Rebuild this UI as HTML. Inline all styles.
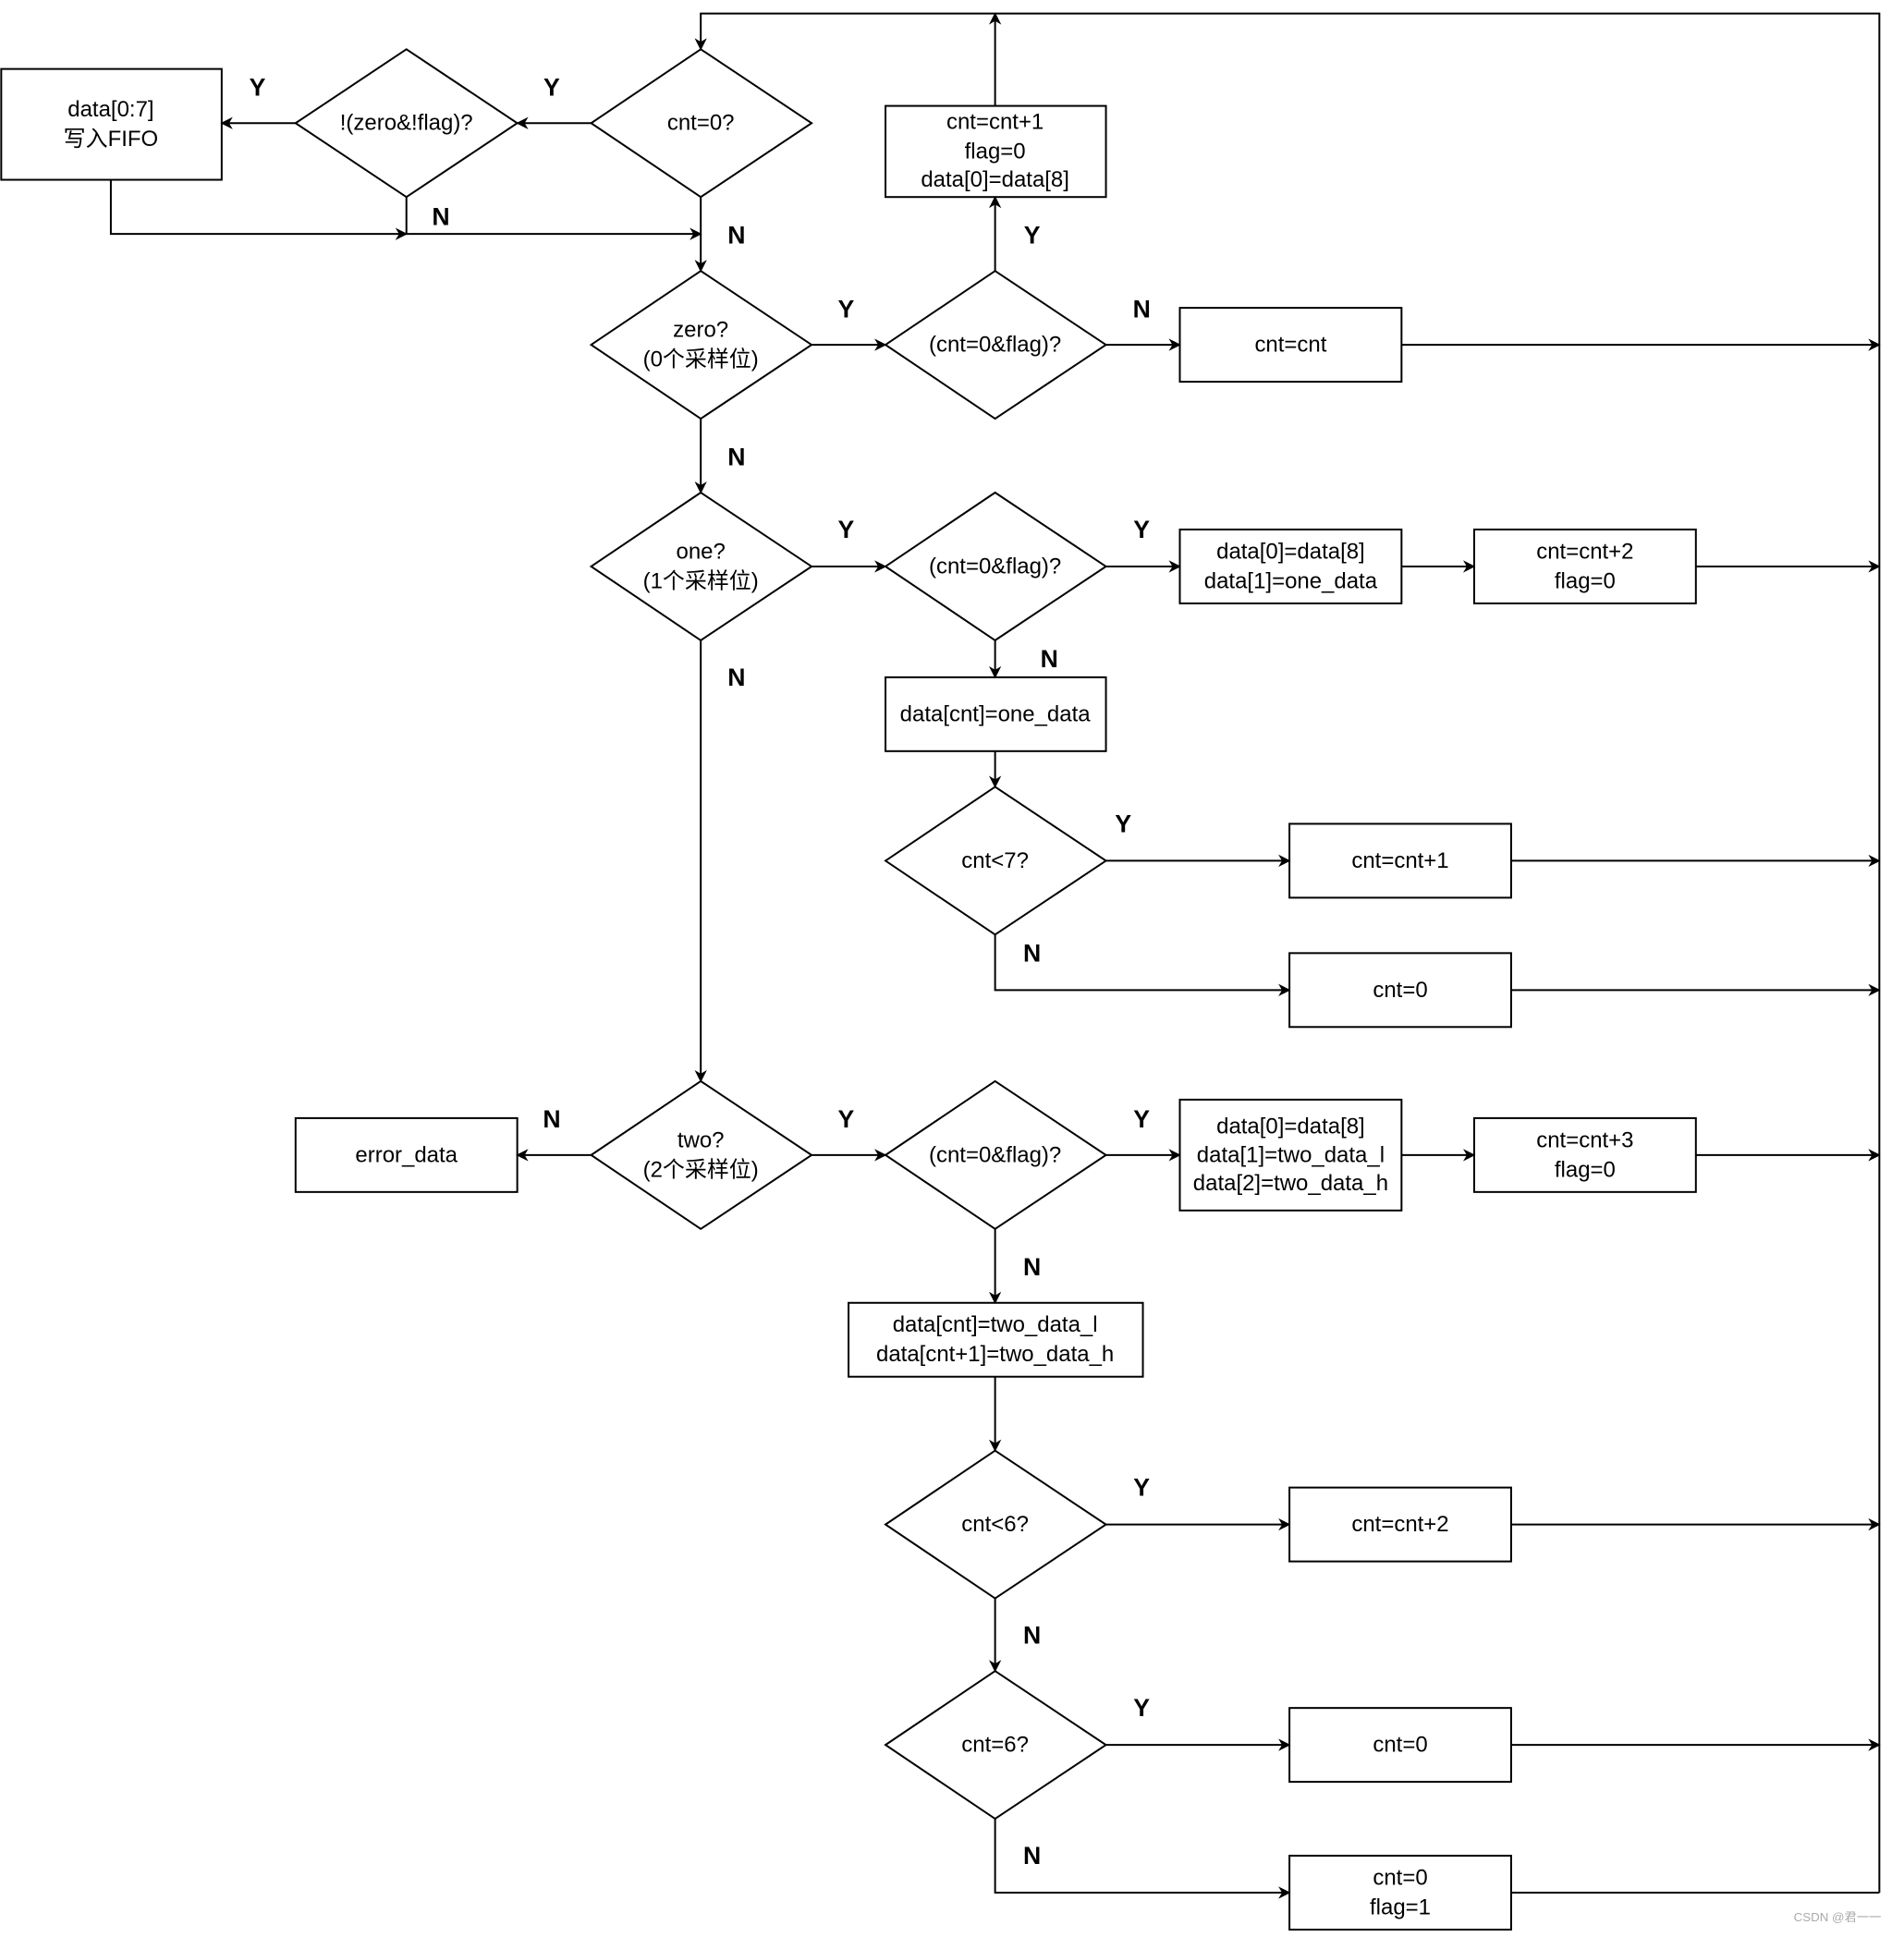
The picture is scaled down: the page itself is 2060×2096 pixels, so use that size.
<!DOCTYPE html>
<html><head><meta charset="utf-8"><style>
html,body{margin:0;padding:0;background:#fff;}
svg{display:block}
text{font-family:"Liberation Sans","Noto Sans CJK SC",sans-serif;font-size:18px;fill:#000;text-anchor:middle;dominant-baseline:central}
.b{font-weight:bold;font-size:20px}
</style></head><body>
<svg width="2060" height="2096" viewBox="0 0 1546 1573" preserveAspectRatio="none" xmlns="http://www.w3.org/2000/svg">
<defs><marker id="a" markerWidth="10" markerHeight="10" refX="9" refY="5" orient="auto" markerUnits="userSpaceOnUse"><path d="M0,0 L10,5 L0,10 L3,5 z" fill="#000"/></marker></defs>
<g fill="#fff" stroke="#000" stroke-width="1.5">
<rect x="1" y="56" width="179" height="90"/>
<polygon points="240,100 330,40 420,100 330,160"/>
<polygon points="480,100 569,40 659,100 569,160"/>
<rect x="719" y="86" width="179" height="74"/>
<polygon points="480,280 569,220 659,280 569,340"/>
<polygon points="719,280 808,220 898,280 808,340"/>
<rect x="958" y="250" width="180" height="60"/>
<polygon points="480,460 569,400 659,460 569,520"/>
<polygon points="719,460 808,400 898,460 808,520"/>
<rect x="958" y="430" width="180" height="60"/>
<rect x="1197" y="430" width="180" height="60"/>
<rect x="719" y="550" width="179" height="60"/>
<polygon points="719,699 808,639 898,699 808,759"/>
<rect x="1047" y="669" width="180" height="60"/>
<rect x="1047" y="774" width="180" height="60"/>
<polygon points="480,938 569,878 659,938 569,998"/>
<rect x="240" y="908" width="180" height="60"/>
<polygon points="719,938 808,878 898,938 808,998"/>
<rect x="958" y="893" width="180" height="90"/>
<rect x="1197" y="908" width="180" height="60"/>
<rect x="689" y="1058" width="239" height="60"/>
<polygon points="719,1238 808,1178 898,1238 808,1298"/>
<rect x="1047" y="1208" width="180" height="60"/>
<polygon points="719,1417 808,1357 898,1417 808,1477"/>
<rect x="1047" y="1387" width="180" height="60"/>
<rect x="1047" y="1507" width="180" height="60"/>
</g>
<g fill="none" stroke="#000" stroke-width="1.5">
<path d="M1526,1537 V11 H569 V40" marker-end="url(#a)"/>
<path d="M808,86 V11" marker-end="url(#a)"/>
<path d="M480,100 H420" marker-end="url(#a)"/>
<path d="M240,100 H180" marker-end="url(#a)"/>
<path d="M90,146 V190 H330" marker-end="url(#a)"/>
<path d="M330,160 V190 H569" marker-end="url(#a)"/>
<path d="M569,160 V220" marker-end="url(#a)"/>
<path d="M659,280 H719" marker-end="url(#a)"/>
<path d="M808,220 V160" marker-end="url(#a)"/>
<path d="M898,280 H958" marker-end="url(#a)"/>
<path d="M1138,280 H1526" marker-end="url(#a)"/>
<path d="M569,340 V400" marker-end="url(#a)"/>
<path d="M659,460 H719" marker-end="url(#a)"/>
<path d="M898,460 H958" marker-end="url(#a)"/>
<path d="M1138,460 H1197" marker-end="url(#a)"/>
<path d="M1377,460 H1526" marker-end="url(#a)"/>
<path d="M808,520 V550" marker-end="url(#a)"/>
<path d="M808,610 V639" marker-end="url(#a)"/>
<path d="M898,699 H1047" marker-end="url(#a)"/>
<path d="M1227,699 H1526" marker-end="url(#a)"/>
<path d="M808,759 V804 H1047" marker-end="url(#a)"/>
<path d="M1227,804 H1526" marker-end="url(#a)"/>
<path d="M569,520 V878" marker-end="url(#a)"/>
<path d="M480,938 H420" marker-end="url(#a)"/>
<path d="M659,938 H719" marker-end="url(#a)"/>
<path d="M898,938 H958" marker-end="url(#a)"/>
<path d="M1138,938 H1197" marker-end="url(#a)"/>
<path d="M1377,938 H1526" marker-end="url(#a)"/>
<path d="M808,998 V1058" marker-end="url(#a)"/>
<path d="M808,1118 V1178" marker-end="url(#a)"/>
<path d="M898,1238 H1047" marker-end="url(#a)"/>
<path d="M1227,1238 H1526" marker-end="url(#a)"/>
<path d="M808,1298 V1357" marker-end="url(#a)"/>
<path d="M898,1417 H1047" marker-end="url(#a)"/>
<path d="M1227,1417 H1526" marker-end="url(#a)"/>
<path d="M808,1477 V1537 H1047" marker-end="url(#a)"/>
<path d="M1227,1537 H1526"/>
</g>
<text x="90" y="89">data[0:7]</text><text x="90" y="113">写入FIFO</text>
<text x="330" y="100">!(zero&amp;!flag)?</text>
<text x="569" y="100">cnt=0?</text>
<text x="808" y="99">cnt=cnt+1</text><text x="808" y="123">flag=0</text><text x="808" y="146">data[0]=data[8]</text>
<text x="569" y="268">zero?</text><text x="569" y="292">(0个采样位)</text>
<text x="808" y="280">(cnt=0&amp;flag)?</text>
<text x="1048" y="280">cnt=cnt</text>
<text x="569" y="448">one?</text><text x="569" y="472">(1个采样位)</text>
<text x="808" y="460">(cnt=0&amp;flag)?</text>
<text x="1048" y="448">data[0]=data[8]</text><text x="1048" y="472">data[1]=one_data</text>
<text x="1287" y="448">cnt=cnt+2</text><text x="1287" y="472">flag=0</text>
<text x="808" y="580">data[cnt]=one_data</text>
<text x="808" y="699">cnt&lt;7?</text>
<text x="1137" y="699">cnt=cnt+1</text>
<text x="1137" y="804">cnt=0</text>
<text x="569" y="926">two?</text><text x="569" y="950">(2个采样位)</text>
<text x="330" y="938">error_data</text>
<text x="808" y="938">(cnt=0&amp;flag)?</text>
<text x="1048" y="915">data[0]=data[8]</text><text x="1048" y="938">data[1]=two_data_l</text><text x="1048" y="961">data[2]=two_data_h</text>
<text x="1287" y="926">cnt=cnt+3</text><text x="1287" y="950">flag=0</text>
<text x="808" y="1076">data[cnt]=two_data_l</text><text x="808" y="1100">data[cnt+1]=two_data_h</text>
<text x="808" y="1238">cnt&lt;6?</text>
<text x="1137" y="1238">cnt=cnt+2</text>
<text x="808" y="1417">cnt=6?</text>
<text x="1137" y="1417">cnt=0</text>
<text x="1137" y="1525">cnt=0</text><text x="1137" y="1549">flag=1</text>
<g class="b">
<text class="b" x="209" y="71">Y</text><text class="b" x="448" y="71">Y</text><text class="b" x="358" y="176">N</text>
<text class="b" x="598" y="191">N</text><text class="b" x="687" y="251">Y</text><text class="b" x="927" y="251">N</text>
<text class="b" x="838" y="191">Y</text><text class="b" x="598" y="371">N</text><text class="b" x="687" y="430">Y</text>
<text class="b" x="927" y="430">Y</text><text class="b" x="852" y="535">N</text><text class="b" x="598" y="550">N</text>
<text class="b" x="912" y="669">Y</text><text class="b" x="838" y="774">N</text><text class="b" x="448" y="909">N</text>
<text class="b" x="687" y="909">Y</text><text class="b" x="927" y="909">Y</text><text class="b" x="838" y="1029">N</text>
<text class="b" x="927" y="1208">Y</text><text class="b" x="838" y="1328">N</text><text class="b" x="927" y="1387">Y</text>
<text class="b" x="838" y="1507">N</text>
</g>
<text x="1492" y="1557" style="font-size:10px;fill:#aaa">CSDN @君一一</text>
</svg>
</body></html>
